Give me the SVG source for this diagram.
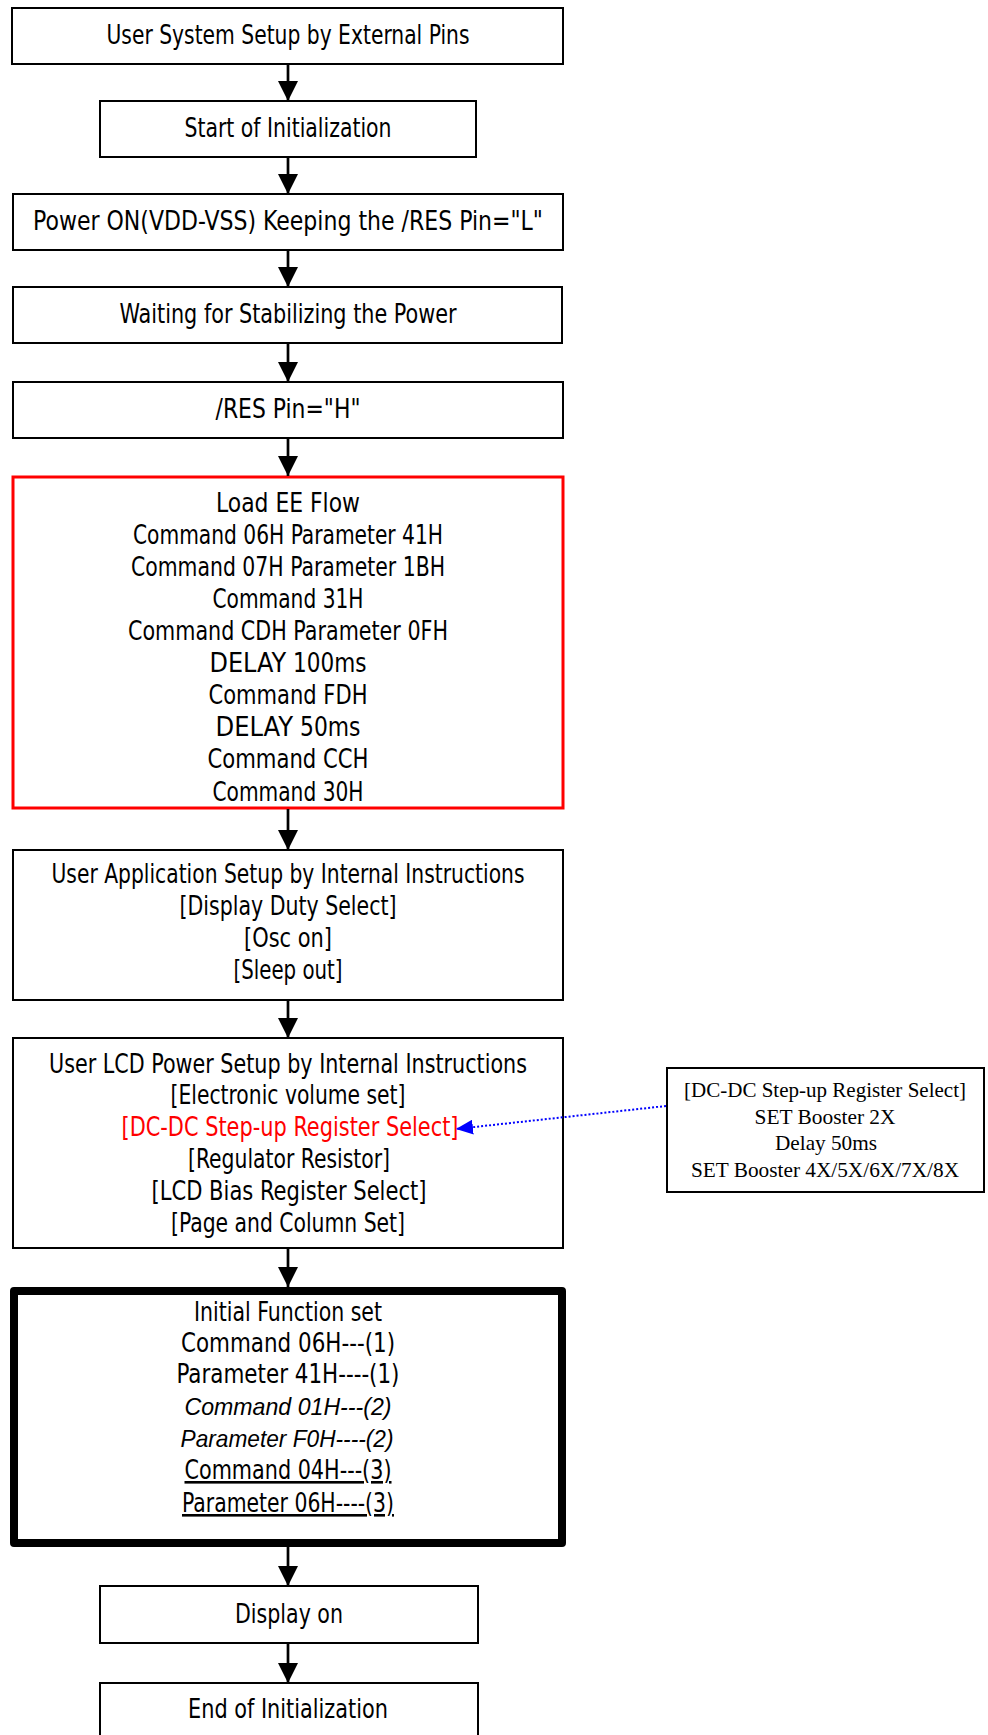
<svg xmlns="http://www.w3.org/2000/svg" width="988" height="1735" viewBox="0 0 988 1735">
<style>
.box{fill:#fff;stroke:#000;stroke-width:2}
.red{fill:#fff;stroke:#ff0000;stroke-width:3}
.thick{fill:#fff;stroke:#000;stroke-width:8;stroke-linejoin:round}
.t{font-family:"DejaVu Sans Condensed","DejaVu Sans",sans-serif;font-size:26px;fill:#000;text-anchor:middle}
.w{font-family:"DejaVu Sans",sans-serif}
.it{font-family:"Liberation Sans",Arial,sans-serif;font-style:italic;font-size:24px}
.u{text-decoration:underline}
.s{font-family:"Liberation Serif","Times New Roman",serif;font-size:21px;fill:#000;text-anchor:middle}
.c{stroke:#000;stroke-width:2.7;fill:none}
.dot{stroke:#0000ff;stroke-width:2;stroke-dasharray:2 2;fill:none}
</style>
<defs>
<marker id="ah" markerUnits="userSpaceOnUse" markerWidth="20" markerHeight="20" refX="20" refY="10" orient="auto">
<path d="M0,0 L20,10 L0,20 Z" fill="#000"/>
</marker>
<marker id="bh" markerUnits="userSpaceOnUse" markerWidth="17" markerHeight="15" refX="17" refY="7.5" orient="auto">
<path d="M0,0 L17,7.5 L0,15 Z" fill="#0000ff"/>
</marker>
</defs>

<g id="n1">
<rect class="box" x="12" y="8" width="551" height="56"/>
<text class="t" x="288" y="44" textLength="363" lengthAdjust="spacingAndGlyphs">User System Setup by External Pins</text>
</g>
<g id="n2">
<rect class="box" x="100" y="101" width="376" height="56"/>
<text class="t" x="288" y="137" textLength="207" lengthAdjust="spacingAndGlyphs">Start of Initialization</text>
</g>
<g id="n3">
<rect class="box" x="13" y="194" width="550" height="56"/>
<text class="t" x="288" y="230" textLength="510" lengthAdjust="spacingAndGlyphs">Power ON(VDD-VSS) Keeping the /RES Pin="L"</text>
</g>
<g id="n4">
<rect class="box" x="13" y="287" width="549" height="56"/>
<text class="t" x="288" y="323" textLength="337" lengthAdjust="spacingAndGlyphs">Waiting for Stabilizing the Power</text>
</g>
<g id="n5">
<rect class="box" x="13" y="382" width="550" height="56"/>
<text class="t" x="288" y="418" textLength="145" lengthAdjust="spacingAndGlyphs">/RES Pin="H"</text>
</g>
<g id="n6">
<rect class="red" x="13" y="477" width="550" height="331"/>
<text class="t" x="288" y="512" textLength="144" lengthAdjust="spacingAndGlyphs">Load EE Flow</text>
<text class="t" x="288" y="544" textLength="310" lengthAdjust="spacingAndGlyphs">Command 06H Parameter 41H</text>
<text class="t" x="288" y="576" textLength="314" lengthAdjust="spacingAndGlyphs">Command 07H Parameter 1BH</text>
<text class="t" x="288" y="608" textLength="151" lengthAdjust="spacingAndGlyphs">Command 31H</text>
<text class="t" x="288" y="640" textLength="320" lengthAdjust="spacingAndGlyphs">Command CDH Parameter 0FH</text>
<text class="t" x="288" y="672" textLength="157" lengthAdjust="spacingAndGlyphs"><tspan class="w">DELAY</tspan> 100ms</text>
<text class="t" x="288" y="704" textLength="159" lengthAdjust="spacingAndGlyphs">Command FDH</text>
<text class="t" x="288" y="736" textLength="145" lengthAdjust="spacingAndGlyphs"><tspan class="w">DELAY</tspan> 50ms</text>
<text class="t" x="288" y="768" textLength="161" lengthAdjust="spacingAndGlyphs">Command CCH</text>
<text class="t" x="288" y="801" textLength="151" lengthAdjust="spacingAndGlyphs">Command 30H</text>
</g>
<g id="n7">
<rect class="box" x="13" y="850" width="550" height="150"/>
<text class="t" x="288" y="883" textLength="473" lengthAdjust="spacingAndGlyphs">User Application Setup by Internal Instructions</text>
<text class="t" x="288" y="915" textLength="217" lengthAdjust="spacingAndGlyphs">[Display Duty Select]</text>
<text class="t" x="288" y="947" textLength="88" lengthAdjust="spacingAndGlyphs">[Osc on]</text>
<text class="t" x="288" y="979" textLength="109" lengthAdjust="spacingAndGlyphs">[Sleep out]</text>
</g>
<g id="n8">
<rect class="box" x="13" y="1038" width="550" height="210"/>
<text class="t" x="288" y="1073" textLength="478" lengthAdjust="spacingAndGlyphs">User LCD Power Setup by Internal Instructions</text>
<text class="t" x="288" y="1104" textLength="235" lengthAdjust="spacingAndGlyphs">[Electronic volume set]</text>
<text class="t" x="290" y="1136" textLength="337" lengthAdjust="spacingAndGlyphs" style="fill:#ff0000">[DC-DC Step-up Register Select]</text>
<text class="t" x="289" y="1168" textLength="202" lengthAdjust="spacingAndGlyphs">[Regulator Resistor]</text>
<text class="t" x="289" y="1200" textLength="275" lengthAdjust="spacingAndGlyphs">[LCD Bias Register Select]</text>
<text class="t" x="288" y="1232" textLength="234" lengthAdjust="spacingAndGlyphs">[Page and Column Set]</text>
</g>
<g id="n9">
<rect class="box" x="667" y="1068" width="317" height="124"/>
<text class="s" x="825" y="1097" textLength="282" lengthAdjust="spacingAndGlyphs">[DC-DC Step-up Register Select]</text>
<text class="s" x="825" y="1124" textLength="141" lengthAdjust="spacingAndGlyphs">SET Booster 2X</text>
<text class="s" x="826" y="1150" textLength="102" lengthAdjust="spacingAndGlyphs">Delay 50ms</text>
<text class="s" x="825" y="1177" textLength="268" lengthAdjust="spacingAndGlyphs">SET Booster 4X/5X/6X/7X/8X</text>
</g>
<g id="n10">
<rect class="thick" x="14" y="1291" width="548" height="252"/>
<text class="t" x="288" y="1321" textLength="188" lengthAdjust="spacingAndGlyphs">Initial Function set</text>
<text class="t" x="288" y="1352" textLength="214" lengthAdjust="spacingAndGlyphs">Command 06H---(1)</text>
<text class="t" x="288" y="1383" textLength="223" lengthAdjust="spacingAndGlyphs">Parameter 41H----(1)</text>
<text class="t it" x="288" y="1415" textLength="207" lengthAdjust="spacingAndGlyphs">Command 01H---(2)</text>
<text class="t it" x="287" y="1447" textLength="213" lengthAdjust="spacingAndGlyphs">Parameter F0H----(2)</text>
<text class="t u" x="288" y="1479" textLength="207" lengthAdjust="spacingAndGlyphs">Command 04H---(3)</text>
<text class="t u" x="288" y="1512" textLength="212" lengthAdjust="spacingAndGlyphs">Parameter 06H----(3)</text>
</g>
<g id="n11">
<rect class="box" x="100" y="1586" width="378" height="57"/>
<text class="t" x="289" y="1623" textLength="108" lengthAdjust="spacingAndGlyphs">Display on</text>
</g>
<g id="n12">
<rect class="box" x="100" y="1683" width="378" height="70"/>
<text class="t" x="288" y="1718" textLength="200" lengthAdjust="spacingAndGlyphs">End of Initialization</text>
</g>

<g id="connectors">
<line class="c" x1="288" y1="64" x2="288" y2="101" marker-end="url(#ah)"/>
<line class="c" x1="288" y1="157" x2="288" y2="194" marker-end="url(#ah)"/>
<line class="c" x1="288" y1="250" x2="288" y2="287" marker-end="url(#ah)"/>
<line class="c" x1="288" y1="343" x2="288" y2="382" marker-end="url(#ah)"/>
<line class="c" x1="288" y1="438" x2="288" y2="476" marker-end="url(#ah)"/>
<line class="c" x1="288" y1="809" x2="288" y2="850" marker-end="url(#ah)"/>
<line class="c" x1="288" y1="1000" x2="288" y2="1038" marker-end="url(#ah)"/>
<line class="c" x1="288" y1="1248" x2="288" y2="1287" marker-end="url(#ah)"/>
<line class="c" x1="288" y1="1547" x2="288" y2="1586" marker-end="url(#ah)"/>
<line class="c" x1="288" y1="1643" x2="288" y2="1683" marker-end="url(#ah)"/>
<line class="dot" x1="666" y1="1106" x2="456" y2="1129" marker-end="url(#bh)"/>
</g>
</svg>
